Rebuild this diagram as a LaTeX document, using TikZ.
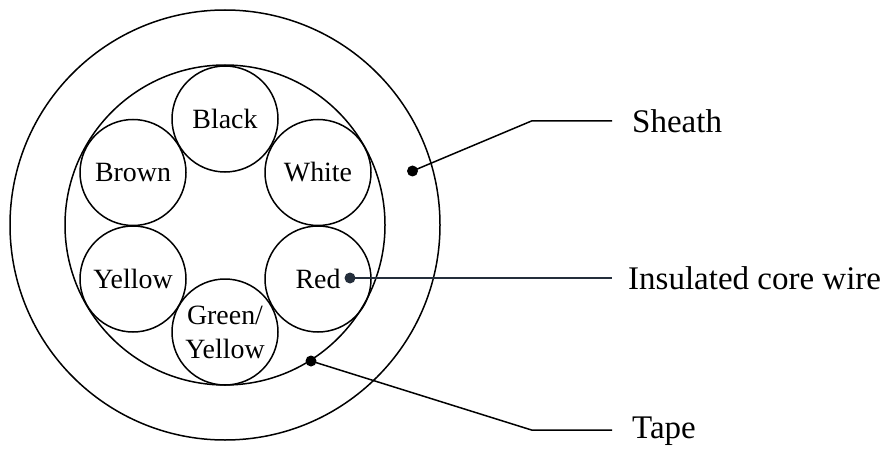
\documentclass[tikz,border=0pt]{standalone}
\usepackage{fontspec}
\setmainfont{Liberation Serif}
\definecolor{mycolor1}{rgb}{0.14000,0.18000,0.23000}
\tikzset{
  sheathring/.style={draw,circle,line width=1.5pt,inner sep=0pt,minimum size=430pt},
  tapering/.style={draw,circle,line width=1.5pt,inner sep=0pt,minimum size=320pt},
  corewire/.style={draw,circle,line width=1.5pt,inner sep=0pt,minimum size=106pt,align=center,font=\fontsize{27.9}{34}\selectfont},
  leaddot/.style={fill=black,circle,inner sep=0pt,minimum size=11pt},
  leadline/.style={line width=1.5pt},
  calllabel/.style={anchor=base west,inner sep=0pt,font=\fontsize{33}{38}\selectfont}
}
\begin{document}
\begin{tikzpicture}[x=1pt,y=-1pt]
\useasboundingbox (0,0) rectangle (885,449);

\node [sheathring] (sheath) at (225,225) {};
\node [tapering] (tape) at (225,225) {};
\node [corewire] (black) at (225,119) {Black};
\node [corewire] (white) at (318,172.5) {White};
\node [corewire] (red) at (318,279) {Red};
\node [corewire] (green) at (225,332) {Green/\\Yellow};
\node [corewire] (yellow) at (133,279) {Yellow};
\node [corewire] (brown) at (133,172.5) {Brown};

\node [leaddot] (sheathdot) at (412.5,171) {};
\node [leaddot,fill=mycolor1] (reddot) at (350,278) {};
\node [leaddot] (tapedot) at (311,361) {};

\coordinate (sheathbend) at (531.5,121);
\coordinate (sheathend) at (612,121);
\coordinate (wireend) at (612,278);
\coordinate (tapebend) at (531.5,430);
\coordinate (tapeend) at (612,430);

\draw [leadline] (sheathdot.center) -- (sheathbend) -- (sheathend);
\draw [leadline,mycolor1] (reddot.center) -- (wireend);
\draw [leadline] (tapedot.center) -- (tapebend) -- (tapeend);

\node [calllabel] (sheathtext) at (632,133) {Sheath};
\node [calllabel] (wiretext) at (628,289) {Insulated core wire};
\node [calllabel] (tapetext) at (632,438) {Tape};
\end{tikzpicture}
\end{document}
